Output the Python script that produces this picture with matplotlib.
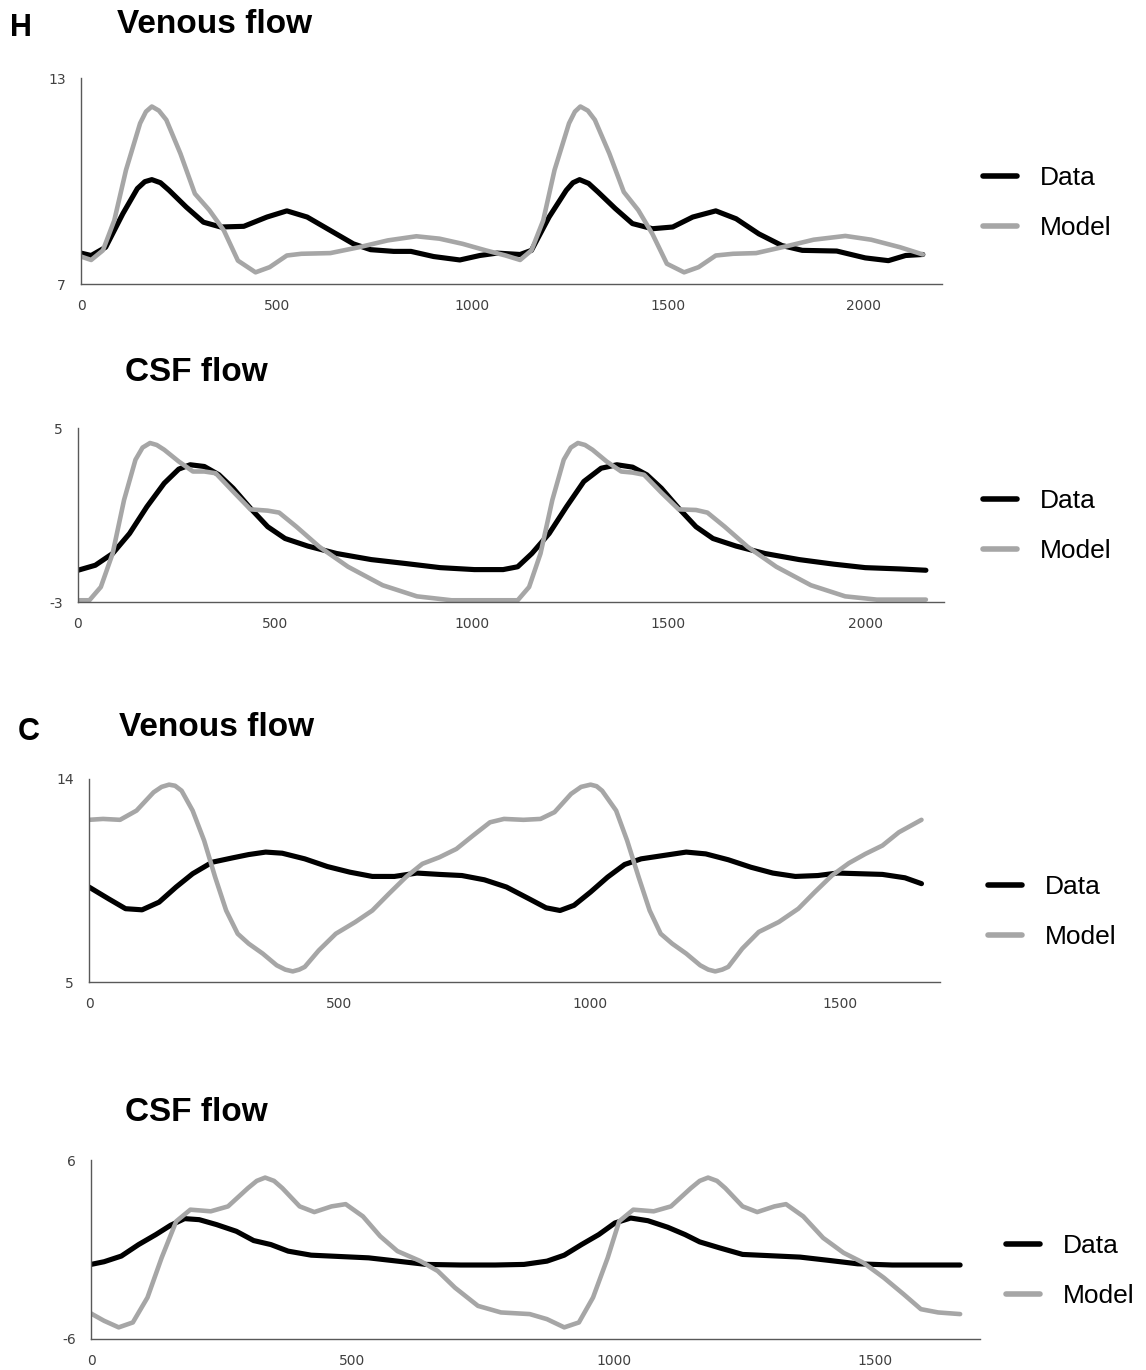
import matplotlib.pyplot as plt
from matplotlib.lines import Line2D

plt.rcParams['axes.unicode_minus'] = False

# ---- H: venous flow ----
h_ven_t_data = [0, 26, 63, 107, 144, 163, 181, 203, 225, 269, 313, 357, 416, 475, 526,
                578, 637, 696, 740, 799, 843, 901, 968, 1019, 1063, 1122, 1151, 1196,
                1240, 1257, 1274, 1297, 1321, 1365, 1409, 1460, 1512, 1563, 1622, 1674,
                1732, 1791, 1843, 1931, 2004, 2063, 2107, 2151]
h_ven_data = [7.90, 7.83, 8.07, 9.05, 9.78, 9.98, 10.04, 9.95, 9.73, 9.24, 8.80, 8.66,
              8.68, 8.95, 9.13, 8.95, 8.56, 8.17, 8.00, 7.95, 7.95, 7.80, 7.70, 7.83,
              7.90, 7.86, 7.98, 8.95, 9.73, 9.95, 10.04, 9.93, 9.68, 9.20, 8.76, 8.61,
              8.66, 8.95, 9.13, 8.90, 8.46, 8.12, 7.98, 7.96, 7.76, 7.68, 7.83, 7.86]
h_ven_t_model = [0, 26, 56, 85, 115, 151, 166, 181, 199, 218, 254, 291, 328, 365, 401,
                 446, 482, 526, 563, 637, 710, 784, 857, 916, 975, 1034, 1085, 1122, 1151,
                 1181, 1210, 1247, 1262, 1276, 1295, 1313, 1350, 1387, 1424, 1460, 1497,
                 1541, 1578, 1622, 1666, 1725, 1799, 1872, 1953, 2019, 2093, 2151]
h_ven_model = [7.80, 7.70, 7.98, 8.85, 10.32, 11.68, 12.02, 12.17, 12.05, 11.78, 10.80,
               9.63, 9.15, 8.56, 7.68, 7.34, 7.49, 7.83, 7.88, 7.90, 8.07, 8.27, 8.39,
               8.32, 8.17, 7.98, 7.83, 7.70, 7.98, 8.85, 10.32, 11.68, 12.02, 12.17,
               12.05, 11.78, 10.80, 9.68, 9.15, 8.46, 7.59, 7.34, 7.49, 7.83, 7.88, 7.90,
               8.09, 8.29, 8.40, 8.29, 8.07, 7.86]

# ---- H: CSF flow ----
h_csf_t_data = [0, 44, 88, 131, 175, 219, 256, 285, 321, 358, 394, 438, 482, 526, 584,
                657, 745, 832, 920, 1007, 1080, 1117, 1153, 1197, 1241, 1285, 1329, 1369,
                1409, 1445, 1482, 1526, 1570, 1613, 1672, 1745, 1832, 1920, 2000, 2088,
                2154]
h_csf_data = [-1.54, -1.31, -0.77, 0.15, 1.38, 2.46, 3.11, 3.31, 3.23, 2.85, 2.23, 1.31,
              0.46, -0.08, -0.43, -0.77, -1.05, -1.23, -1.42, -1.51, -1.51, -1.38, -0.77,
              0.15, 1.38, 2.54, 3.15, 3.31, 3.20, 2.85, 2.23, 1.31, 0.46, -0.08, -0.43,
              -0.77, -1.05, -1.26, -1.42, -1.48, -1.54]
h_csf_t_model = [0, 29, 58, 88, 117, 146, 164, 183, 200, 219, 256, 292, 321, 350, 394,
                 438, 482, 511, 555, 613, 686, 774, 861, 949, 1037, 1117, 1146, 1175,
                 1205, 1234, 1252, 1270, 1288, 1307, 1343, 1380, 1409, 1438, 1482, 1526,
                 1570, 1599, 1643, 1701, 1774, 1862, 1949, 2029, 2154]
h_csf_model = [-2.92, -2.92, -2.31, -0.77, 1.69, 3.54, 4.10, 4.31, 4.22, 4.00, 3.46,
               3.00, 3.00, 2.92, 2.08, 1.26, 1.20, 1.11, 0.46, -0.46, -1.38, -2.23,
               -2.74, -2.92, -2.92, -2.92, -2.31, -0.77, 1.69, 3.54, 4.10, 4.31, 4.22,
               4.00, 3.46, 3.00, 2.95, 2.85, 2.03, 1.26, 1.23, 1.11, 0.46, -0.46, -1.38,
               -2.23, -2.74, -2.89, -2.89]

# ---- C: venous flow ----
c_ven_t_data = [0, 39, 73, 106, 140, 174, 207, 246, 286, 319, 353, 386, 431, 476, 521,
                566, 610, 655, 700, 745, 790, 834, 879, 913, 941, 969, 1002, 1036, 1070,
                1103, 1148, 1193, 1232, 1277, 1322, 1366, 1411, 1456, 1495, 1540, 1585,
                1630, 1663]
c_ven_data = [9.21, 8.69, 8.25, 8.20, 8.54, 9.21, 9.80, 10.31, 10.50, 10.65, 10.76,
              10.71, 10.46, 10.12, 9.87, 9.68, 9.68, 9.83, 9.77, 9.72, 9.53, 9.21, 8.69,
              8.29, 8.17, 8.40, 8.99, 9.65, 10.21, 10.46, 10.61, 10.76, 10.68, 10.42,
              10.09, 9.83, 9.68, 9.72, 9.83, 9.80, 9.77, 9.62, 9.36]
c_ven_t_model = [0, 28, 62, 95, 129, 145, 160, 172, 185, 207, 230, 252, 274, 297, 319,
                 347, 375, 392, 407, 420, 431, 459, 493, 532, 566, 599, 633, 666, 700,
                 734, 767, 801, 829, 868, 902, 930, 963, 983, 1002, 1014, 1025, 1053,
                 1075, 1098, 1120, 1142, 1165, 1193, 1221, 1237, 1251, 1265, 1277, 1305,
                 1338, 1378, 1417, 1450, 1484, 1518, 1551, 1585, 1618, 1663]
c_ven_model = [12.19, 12.23, 12.19, 12.60, 13.41, 13.65, 13.75, 13.70, 13.48, 12.60,
               11.27, 9.65, 8.17, 7.14, 6.70, 6.26, 5.74, 5.55, 5.47, 5.55, 5.67, 6.40,
               7.14, 7.66, 8.17, 8.91, 9.65, 10.24, 10.53, 10.90, 11.49, 12.08, 12.23,
               12.19, 12.23, 12.53, 13.34, 13.65, 13.75, 13.68, 13.48, 12.60, 11.27, 9.65,
               8.17, 7.14, 6.70, 6.26, 5.74, 5.55, 5.47, 5.55, 5.67, 6.48, 7.22, 7.66,
               8.25, 8.99, 9.72, 10.27, 10.68, 11.05, 11.64, 12.19]

# ---- C: CSF flow ----
c_csf_t_data = [0, 25, 58, 91, 124, 152, 179, 207, 240, 278, 311, 344, 377, 421, 476,
                531, 586, 641, 707, 773, 828, 872, 905, 938, 971, 1002, 1032, 1065, 1103,
                1136, 1164, 1202, 1246, 1301, 1356, 1411, 1466, 1532, 1598, 1662]
c_csf_data = [-1.00, -0.82, -0.44, 0.33, 1.00, 1.62, 2.07, 2.00, 1.67, 1.22, 0.60, 0.33,
              -0.11, -0.38, -0.47, -0.56, -0.78, -1.00, -1.04, -1.04, -1.00, -0.78,
              -0.38, 0.33, 1.00, 1.78, 2.11, 1.93, 1.49, 1.00, 0.51, 0.11, -0.33, -0.42,
              -0.51, -0.73, -0.96, -1.04, -1.04, -1.04]
c_csf_t_model = [0, 25, 53, 80, 108, 135, 163, 190, 229, 262, 300, 317, 333, 350, 366,
                 399, 427, 460, 487, 520, 553, 586, 630, 663, 696, 740, 784, 839, 872,
                 905, 933, 960, 988, 1010, 1037, 1076, 1109, 1147, 1164, 1180, 1197, 1213,
                 1246, 1274, 1307, 1329, 1362, 1400, 1439, 1477, 1516, 1554, 1587, 1620,
                 1662]
c_csf_model = [-4.29, -4.78, -5.22, -4.89, -3.22, -0.56, 1.89, 2.67, 2.56, 2.89, 4.11,
               4.60, 4.82, 4.60, 4.11, 2.89, 2.51, 2.89, 3.04, 2.22, 0.89, -0.11, -0.78,
               -1.44, -2.56, -3.78, -4.22, -4.33, -4.67, -5.22, -4.89, -3.22, -0.56, 1.89,
               2.67, 2.56, 2.89, 4.11, 4.60, 4.82, 4.60, 4.11, 2.89, 2.51, 2.89, 3.04,
               2.22, 0.78, -0.22, -0.89, -1.89, -3.00, -4.00, -4.22, -4.33]

W, H = 1146, 1370
BLACK = '#000000'
GRAY = '#a6a6a6'

fig = plt.figure(figsize=(W / 100, H / 100), dpi=100)


def px_axes(left, right, top, bottom):
    return fig.add_axes([left / W, 1 - bottom / H, (right - left) / W, (bottom - top) / H])


def panel(ax, t_d, d, t_m, m, xmax, ylo, yhi, xticks, leg_x, leg_y):
    ax.plot(t_d, d, color=BLACK, lw=3.7, solid_joinstyle='round', solid_capstyle='round')
    ax.plot(t_m, m, color=GRAY, lw=3.3, solid_joinstyle='round', solid_capstyle='round')
    ax.set_xlim(0, xmax)
    ax.set_ylim(ylo, yhi)
    ax.set_xticks(xticks)
    ax.set_yticks([ylo, yhi])
    for s in ['top', 'right']:
        ax.spines[s].set_visible(False)
    for s in ['left', 'bottom']:
        ax.spines[s].set_color('#595959')
        ax.spines[s].set_linewidth(1.0)
    ax.tick_params(length=0, pad=11, labelsize=10, labelcolor='#404040')
    handles = [Line2D([], [], color=BLACK, lw=4, solid_capstyle='round'),
               Line2D([], [], color=GRAY, lw=4, solid_capstyle='round')]
    fig.legend(handles, ['Data', 'Model'], loc='center left',
               bbox_to_anchor=(leg_x / W, 1 - leg_y / H), frameon=False,
               prop={'family': 'Liberation Sans', 'size': 19},
               handlelength=1.3, handletextpad=0.85, labelspacing=1.0,
               borderpad=0, borderaxespad=0)


ax1 = px_axes(81, 942, 78, 284)
panel(ax1, h_ven_t_data, h_ven_data, h_ven_t_model, h_ven_model, 2200, 7, 13,
      [0, 500, 1000, 1500, 2000], 983, 203)

ax2 = px_axes(78, 944, 428, 602)
panel(ax2, h_csf_t_data, h_csf_data, h_csf_t_model, h_csf_model, 2200, -3, 5,
      [0, 500, 1000, 1500, 2000], 983, 526)

ax3 = px_axes(89, 940, 779, 982)
panel(ax3, c_ven_t_data, c_ven_data, c_ven_t_model, c_ven_model, 1700, 5, 14,
      [0, 500, 1000, 1500], 988, 912)

ax4 = px_axes(91, 980, 1160, 1339)
panel(ax4, c_csf_t_data, c_csf_data, c_csf_t_model, c_csf_model, 1700, -6, 6,
      [0, 500, 1000, 1500], 1006, 1271)

title_font = dict(family='Liberation Sans', weight='bold', size=24, va='baseline')
fig.text(10 / W, 1 - 36 / H, 'H', size=22, **{k: v for k, v in title_font.items() if k != 'size'})
fig.text(117 / W, 1 - 33 / H, 'Venous flow', **title_font)
fig.text(125 / W, 1 - 381 / H, 'CSF flow', **title_font)
fig.text(18 / W, 1 - 740 / H, 'C', size=22, **{k: v for k, v in title_font.items() if k != 'size'})
fig.text(119 / W, 1 - 736 / H, 'Venous flow', **title_font)
fig.text(125 / W, 1 - 1121 / H, 'CSF flow', **title_font)

fig.savefig('out.png', dpi=100)
